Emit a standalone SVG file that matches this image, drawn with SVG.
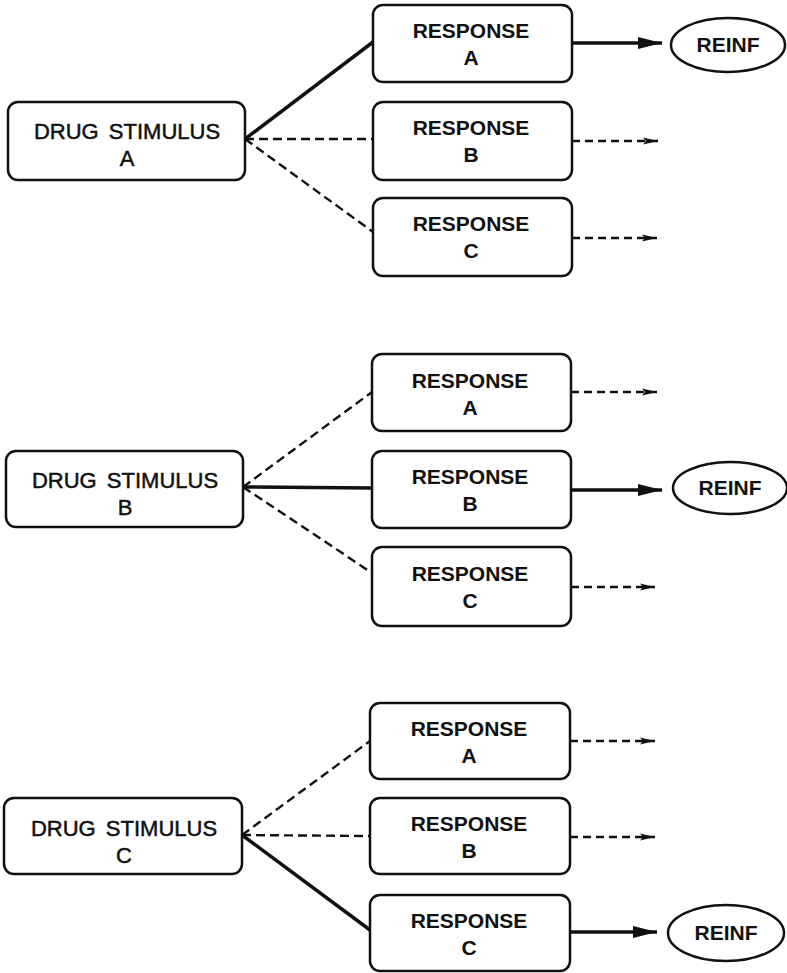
<svg xmlns="http://www.w3.org/2000/svg" width="787" height="973" viewBox="0 0 787 973">
<style>
.box{fill:#fff;stroke:#111;stroke-width:2.5}
.ell{fill:#fff;stroke:#111;stroke-width:2.5}
.st{font-family:"Liberation Sans",Arial,sans-serif;font-size:22px;fill:#111;stroke:#111;stroke-width:0.5;text-anchor:middle;word-spacing:4px}
.rt{font-family:"Liberation Sans",Arial,sans-serif;font-size:21px;font-weight:bold;fill:#111;text-anchor:middle}
.solid{stroke:#111;stroke-width:3.5;fill:none}
.dash{stroke:#111;stroke-width:2.4;fill:none;stroke-dasharray:9 5}
.sa{stroke:#111;stroke-width:3.5;fill:none;marker-end:url(#big)}
.da{stroke:#111;stroke-width:2.4;fill:none;stroke-dasharray:8 5;marker-end:url(#small)}
</style>
<defs>
<marker id="big" markerUnits="userSpaceOnUse" markerWidth="26" markerHeight="14" refX="24" refY="7" orient="auto">
<polygon points="0,1 24,7 0,13" fill="#111"/>
</marker>
<marker id="small" markerUnits="userSpaceOnUse" markerWidth="16" markerHeight="10" refX="15" refY="5" orient="auto">
<polygon points="0,1.5 15,5 0,8.5 3,5" fill="#111"/>
</marker>
</defs>

<g id="connectors">
<line class="solid" x1="245" y1="139" x2="373" y2="42"/>
<line class="dash" x1="245" y1="139" x2="373" y2="139"/>
<line class="dash" x1="245" y1="139" x2="373" y2="232"/>
<line class="sa" x1="572" y1="43" x2="662" y2="43"/>
<line class="da" x1="572" y1="141" x2="658" y2="141"/>
<line class="da" x1="572" y1="238" x2="657" y2="238"/>
<line class="dash" x1="243" y1="487" x2="372" y2="392"/>
<line class="solid" x1="243" y1="487" x2="372" y2="488"/>
<line class="dash" x1="243" y1="487" x2="372" y2="573"/>
<line class="da" x1="571" y1="392" x2="657" y2="392"/>
<line class="sa" x1="571" y1="490" x2="662" y2="490"/>
<line class="da" x1="571" y1="587" x2="655" y2="587"/>
<line class="dash" x1="242" y1="835" x2="370" y2="741"/>
<line class="dash" x1="242" y1="835" x2="370" y2="836"/>
<line class="solid" x1="242" y1="835" x2="370" y2="930"/>
<line class="da" x1="570" y1="741" x2="655" y2="741"/>
<line class="da" x1="570" y1="837" x2="655" y2="837"/>
<line class="sa" x1="570" y1="932" x2="657" y2="932"/>
</g>

<g id="stimA"><rect class="box" x="8" y="102" width="237" height="78" rx="10"/><text class="st" x="127" y="139">DRUG STIMULUS</text><text class="st" x="127" y="166">A</text></g>
<g id="respAA"><rect class="box" x="373" y="5" width="199" height="77" rx="10"/><text class="rt" x="471" y="38">RESPONSE</text><text class="rt" x="471" y="65">A</text></g>
<g id="respAB"><rect class="box" x="373" y="102" width="199" height="78" rx="10"/><text class="rt" x="471" y="135">RESPONSE</text><text class="rt" x="471" y="162">B</text></g>
<g id="respAC"><rect class="box" x="373" y="198" width="199" height="78" rx="10"/><text class="rt" x="471" y="231">RESPONSE</text><text class="rt" x="471" y="258">C</text></g>
<g id="reinfA"><ellipse class="ell" cx="728" cy="45" rx="57" ry="27"/><text class="rt" x="728" y="52">REINF</text></g>

<g id="stimB"><rect class="box" x="6" y="451" width="237" height="76" rx="10"/><text class="st" x="125" y="488">DRUG STIMULUS</text><text class="st" x="125" y="515">B</text></g>
<g id="respBA"><rect class="box" x="372" y="354" width="199" height="77" rx="10"/><text class="rt" x="470" y="388">RESPONSE</text><text class="rt" x="470" y="415">A</text></g>
<g id="respBB"><rect class="box" x="372" y="451" width="199" height="77" rx="10"/><text class="rt" x="470" y="484">RESPONSE</text><text class="rt" x="470" y="511">B</text></g>
<g id="respBC"><rect class="box" x="372" y="547" width="199" height="79" rx="10"/><text class="rt" x="470" y="581">RESPONSE</text><text class="rt" x="470" y="608">C</text></g>
<g id="reinfB"><ellipse class="ell" cx="730" cy="488" rx="57" ry="26"/><text class="rt" x="730" y="495">REINF</text></g>

<g id="stimC"><rect class="box" x="4" y="798" width="238" height="76" rx="10"/><text class="st" x="124" y="836">DRUG STIMULUS</text><text class="st" x="124" y="863">C</text></g>
<g id="respCA"><rect class="box" x="370" y="703" width="200" height="76" rx="10"/><text class="rt" x="469" y="736">RESPONSE</text><text class="rt" x="469" y="763">A</text></g>
<g id="respCB"><rect class="box" x="370" y="798" width="200" height="76" rx="10"/><text class="rt" x="469" y="831">RESPONSE</text><text class="rt" x="469" y="858">B</text></g>
<g id="respCC"><rect class="box" x="370" y="895" width="200" height="76" rx="10"/><text class="rt" x="469" y="928">RESPONSE</text><text class="rt" x="469" y="955">C</text></g>
<g id="reinfC"><ellipse class="ell" cx="726" cy="933" rx="58" ry="28"/><text class="rt" x="726" y="940">REINF</text></g>
</svg>
